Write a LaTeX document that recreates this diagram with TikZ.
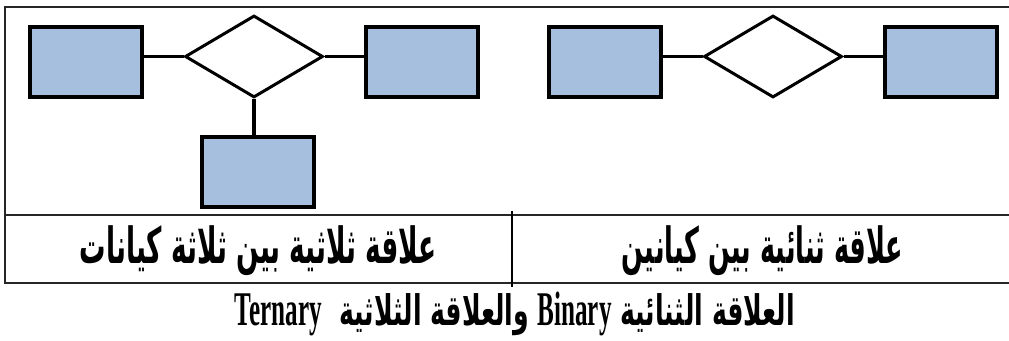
\documentclass[tikz,border=0pt]{standalone}
\usepackage{fontspec}
\usepackage{graphicx}
\usetikzlibrary{positioning, shapes.geometric}
\TeXXeTstate=1
\newfontfamily\arabicfont[Script=Arabic]{DejaVu Sans}
\newfontfamily\latinfont{Liberation Serif}
\definecolor{entityfill}{RGB}{167,191,222}
% tall latin word inside the caption
\newcommand{\tallword}[1]{\scalebox{1}[1.15]{\latinfont\bfseries #1}}

\begin{document}
\begin{tikzpicture}[
    x=1pt, y=1pt, on grid, node distance=168pt,
    entity/.style={rectangle, draw, line width=4pt, fill=entityfill, minimum width=112pt, minimum height=70pt, inner sep=0pt},
    relation/.style={diamond, draw, line width=3pt, fill=white, minimum width=138pt, minimum height=82pt, inner sep=0pt},
    link/.style={line width=3.5pt},
    frame/.style={line width=2pt, black!85},
    caption/.style={font=\bfseries, inner sep=0pt}
]
    \useasboundingbox (0,0) rectangle (1009,340);

    % table lines
    \draw[frame] (1012,332.5) -| (5,57) -- (1012,57);
    \draw[frame] (5,125) -- (1012,125);
    \draw[line width=1.3pt] (512,129) -- (512,53);

    % ternary: three entities around one relationship
    \node[entity] (t1) at (86,277.5) {};
    \node[relation] (tr) [right=of t1, yshift=6pt] {};
    \node[entity] (t2) [right=of tr, yshift=-6pt] {};
    \node[entity] (t3) [below=116pt of tr, xshift=4pt] {};
    \draw[link] (tr.west) -- (tr.west -| t1.east);
    \draw[link] (tr.east) -- (tr.east -| t2.west);
    \draw[link] (tr.south) -- (tr.south |- t3.north);

    % binary: two entities
    \node[entity] (b1) at (605,277.5) {};
    \node[relation] (br) [right=of b1, yshift=6pt] {};
    \node[entity] (b2) [right=of br, yshift=-6pt] {};
    \draw[link] (br.west) -- (br.west -| b1.east);
    \draw[link] (br.east) -- (br.east -| b2.west);

    % cell titles and caption
    \node[caption] (tlabel) at (258.5,89)
        {\resizebox*{357pt}{50pt}{\arabicfont\bfseries\beginR علاقة ثلاثية بين ثلاثة كيانات\endR}};
    \node[caption] (blabel) at (762.5,89)
        {\resizebox*{281pt}{50pt}{\arabicfont\bfseries\beginR علاقة ثنائية بين كيانين\endR}};
    \node[caption] (cap) at (515,26)
        {\resizebox*{560pt}{44pt}{\arabicfont\bfseries\beginR العلاقة الثنائية \beginL\tallword{Binary}\endL{} والعلاقة الثلاثية \ \beginL\tallword{Ternary}\endL\endR}};
\end{tikzpicture}
\end{document}
